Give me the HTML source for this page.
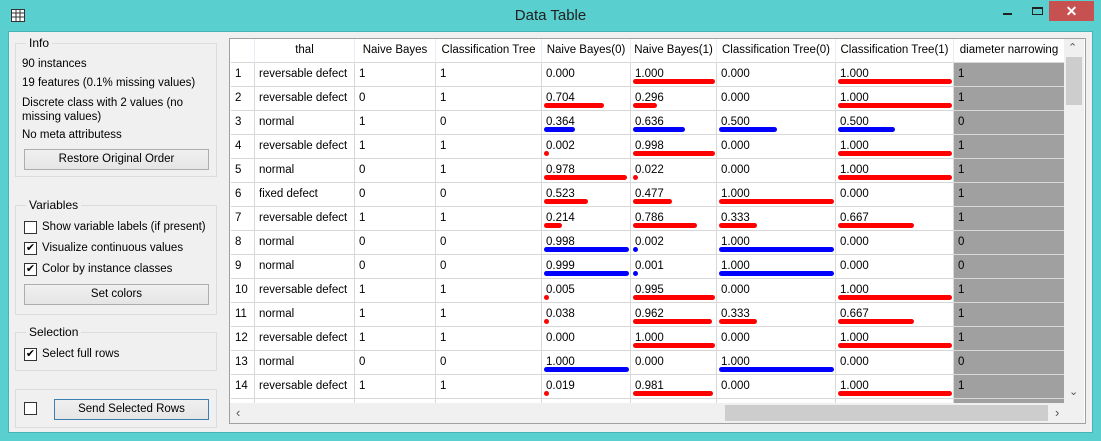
<!DOCTYPE html>
<html><head><meta charset="utf-8">
<style>
*{box-sizing:border-box}
body{margin:0;width:1101px;height:441px;overflow:hidden;font-family:"Liberation Sans",sans-serif;font-size:12px;color:#000;background:#5acfcf;position:relative}
.abs{position:absolute}
#client{left:8px;top:31px;width:1085px;height:402px;background:#f0f0f0;border:1px solid #49b3b3}
.gb{position:absolute;border:1px solid #dcdcdc;}
.gbl{position:absolute;top:-8px;left:10px;background:#f0f0f0;padding:0 3px;font-size:12px}
.btn{position:absolute;border:1px solid #adadad;background:linear-gradient(#f0f0f0,#e5e5e5);text-align:center;line-height:19px;font-size:11.5px}
.cb{position:absolute;width:13px;height:13px;border:1px solid #333;background:#fff;font-size:11px;line-height:11px;text-align:center}
.txt{position:absolute;white-space:nowrap;font-size:11.5px}
#table{left:229px;top:38px;width:857px;height:386px;border:1px solid #a0a0a0;background:#fff;overflow:hidden}
.cell{position:absolute;border-right:1px solid #d8d8d8;border-bottom:1px solid #d8d8d8;padding-left:4px;line-height:22px;white-space:nowrap;overflow:hidden;font-size:11.5px}
.hdr{text-align:center;padding-left:0;background:#fff;border-right:1px solid #e6eef8}
.bar{position:absolute;height:5px;border-radius:2.5px}
.sb{z-index:5}
</style></head><body>
<div class="abs" style="left:0;top:0;width:1101px;height:31px">
 <svg class="abs" style="left:11px;top:9px" width="14" height="13"><rect x="0.5" y="0.5" width="13" height="12" fill="#fff" stroke="#333"/><path d="M0 4H14M0 8H14M5 0V13M9 0V13" stroke="#333"/></svg>
 <div class="txt" style="left:0;width:1101px;text-align:center;top:7px;font-size:15px;color:#222">Data Table</div>
 <div class="abs" style="left:1003px;top:13px;width:9px;height:2px;background:#222"></div>
 <div class="abs" style="left:1032px;top:7px;width:11px;height:8px;border:1px solid #222;border-top-width:2px"></div>
 <div class="abs" style="left:1049px;top:1px;width:45px;height:20px;background:#c75050;color:#fff;text-align:center;font-size:14px;line-height:20px;font-weight:bold">✕</div>
</div>
<div id="client" class="abs">
 <div class="gb" style="left:6px;top:11px;width:202px;height:134px"><span class="gbl">Info</span>
  <div class="txt" style="left:6px;top:14px">90 instances</div>
  <div class="txt" style="left:6px;top:33px">19 features (0.1% missing values)</div>
  <div class="txt" style="left:6px;top:52px;white-space:normal;width:185px;line-height:14px">Discrete class with 2 values (no missing values)</div>
  <div class="txt" style="left:6px;top:85px">No meta attributess</div>
  <div class="btn" style="left:8px;top:105px;width:185px;height:21px">Restore Original Order</div>
 </div>
 <div class="gb" style="left:6px;top:173px;width:202px;height:110px"><span class="gbl">Variables</span>
  <div class="cb" style="left:8px;top:15px"></div><div class="txt" style="left:26px;top:15px">Show variable labels (if present)</div>
  <div class="cb" style="left:8px;top:36px">✔</div><div class="txt" style="left:26px;top:36px">Visualize continuous values</div>
  <div class="cb" style="left:8px;top:57px">✔</div><div class="txt" style="left:26px;top:57px">Color by instance classes</div>
  <div class="btn" style="left:8px;top:78px;width:185px;height:21px">Set colors</div>
 </div>
 <div class="gb" style="left:6px;top:300px;width:202px;height:39px"><span class="gbl">Selection</span>
  <div class="cb" style="left:8px;top:15px">✔</div><div class="txt" style="left:26px;top:15px">Select full rows</div>
 </div>
 <div class="gb" style="left:6px;top:357px;width:202px;height:39px">
  <div class="cb" style="left:8px;top:12px"></div>
  <div class="btn" style="left:38px;top:9px;width:155px;height:21px;border-color:#3c7fb1">Send Selected Rows</div>
 </div>
</div>
<div id="table" class="abs">
 <div class="abs sb" style="left:834px;top:0;width:20px;height:364px;background:#f0f0f0">
  <div class="abs" style="left:4px;top:2px;font-size:11px;color:#555">⌃</div>
  <div class="abs" style="left:2px;top:18px;width:16px;height:48px;background:#cdcdcd"></div>
  <div class="abs" style="left:5px;top:346px;font-size:11px;color:#555">⌄</div>
 </div>
 <div class="abs sb" style="left:0;top:364px;width:854px;height:20px;background:#f0f0f0">
  <div class="abs" style="left:6px;top:2px;font-size:13px;color:#555">‹</div>
  <div class="abs" style="left:495px;top:2px;width:323px;height:16px;background:#cdcdcd"></div>
  <div class="abs" style="left:825px;top:2px;font-size:13px;color:#555">›</div>
 </div>
</div>
<script>
const headers=["thal","Naive Bayes","Classification Tree","Naive Bayes(0)","Naive Bayes(1)","Classification Tree(0)","Classification Tree(1)","diameter narrowing"];
const thal=["reversable defect","reversable defect","normal","reversable defect","normal","fixed defect","reversable defect","normal","normal","reversable defect","normal","reversable defect","normal","reversable defect"];
const nb=[1,0,1,1,0,0,1,0,0,1,1,1,0,1];
const ct=[1,1,0,1,1,0,1,0,0,1,1,1,0,1];
const nb0=[0.000,0.704,0.364,0.002,0.978,0.523,0.214,0.998,0.999,0.005,0.038,0.000,1.000,0.019];
const nb1=[1.000,0.296,0.636,0.998,0.022,0.477,0.786,0.002,0.001,0.995,0.962,1.000,0.000,0.981];
const ct0=[0.000,0.000,0.500,0.000,0.000,1.000,0.333,1.000,1.000,0.000,0.333,0.000,1.000,0.000];
const ct1=[1.000,1.000,0.500,1.000,1.000,0.000,0.667,0.000,0.000,1.000,0.667,1.000,0.000,1.000];
const diam=[1,1,0,1,1,1,1,0,0,1,1,1,0,1];
const colX=[1,25,125,206,312,401,487,606,724,835];
const T=document.getElementById('table');
const rowH=24, hdrH=24;
function cell(x,y,w,h,text,cls,bg){const d=document.createElement('div');d.className='cell'+(cls?' '+cls:'');d.style.left=x+'px';d.style.top=y+'px';d.style.width=w+'px';d.style.height=h+'px';if(bg)d.style.background=bg;d.textContent=text;T.appendChild(d);return d;}
const hc=cell(colX[0],0,colX[1]-colX[0],hdrH,'','hdr');


headers.forEach((h,i)=>{const d=cell(colX[i+1],0,colX[i+2]-colX[i+1],hdrH,h,'hdr');

});
const cols=[thal,nb,ct,nb0,nb1,ct0,ct1,diam];
for(let r=0;r<15;r++){
 const y=hdrH+r*rowH;
 const rn=cell(colX[0],y,colX[1]-colX[0],rowH,r<14?String(r+1):'');
 
 
 for(let c=0;c<8;c++){
  const x=colX[c+1],w=colX[c+2]-colX[c+1];
  let v=r<14?cols[c][r]:'';
  let txt=(c>=3&&c<=6&&r<14)?v.toFixed(3):String(v);
  const d=cell(x,y,w,rowH,txt,'',c==7?'#a0a0a0':null);
  
  
  if(c>=3&&c<=6&&r<14&&v>0){
   const b=document.createElement('div');b.className='bar';
   
   
   b.style.left=(x+2)+'px';b.style.top=(y+16)+'px';b.style.width=Math.max(5,v*(w-4))+'px';
   b.style.background=diam[r]==1?'#ff0000':'#0000ff';T.appendChild(b);
  }
 }
}
</script>
</body></html>
